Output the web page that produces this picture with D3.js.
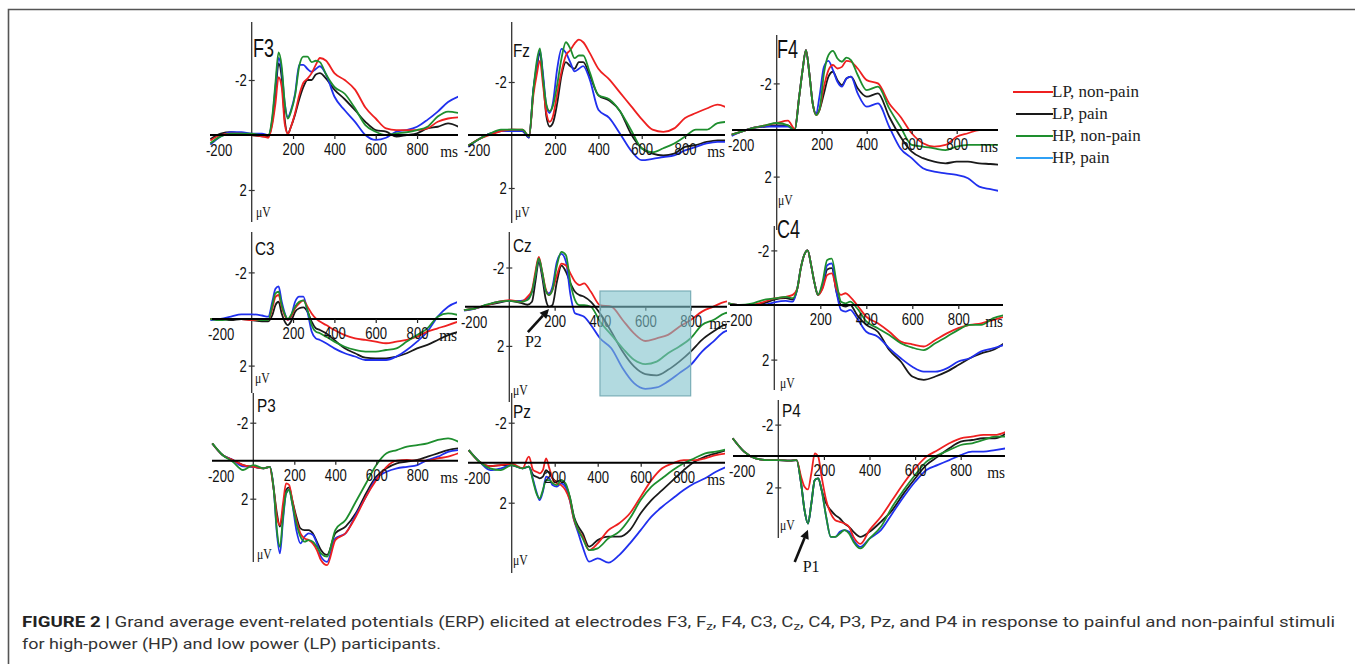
<!DOCTYPE html>
<html>
<head>
<meta charset="utf-8">
<script src="https://cdn.jsdelivr.net/npm/d3@7"></script>
<style>
  body { margin: 0; background: #fff; }
  svg { display: block; }
</style>
</head>
<body>
<svg id="fig" width="1355" height="664"></svg>
<script>
// sample times (ms) shared by all electrodes
const times = [-200,-150,-100,-50,0,50,80,100,115,130,145,160,175,190,210,230,250,270,290,310,330,360,400,450,500,550,600,650,700,750,800,850,900,950,1000]
const seriesNames = ['LP, non-pain', 'LP, pain', 'HP, non-pain', 'HP, pain']
const xTicks = [200, 400, 600, 800]
const yTicks = [-2, 2]

// amplitudes in µV, order: LP non-pain, LP pain, HP non-pain, HP pain
const F3 = [
    [0.2,0,-0.05,-0.05,0,0.05,0.1,-0.4,-1.15,-2.1,-1.75,-0.4,-0.05,-0.3,-0.8,-1.45,-1.9,-2.05,-2.25,-2.55,-2.8,-2.7,-2.25,-2.0,-1.65,-1.0,-0.6,-0.24,-0.18,-0.18,-0.18,-0.24,-0.48,-0.6,-0.64],
    [0.15,-0.05,-0.1,-0.05,0,0.05,0.05,-0.5,-1.5,-2.6,-2.1,-0.55,-0.05,-0.3,-0.75,-1.3,-1.75,-2.0,-2.0,-2.2,-2.25,-2.05,-1.65,-1.3,-0.9,-0.48,-0.18,-0.12,0.06,0,-0.06,-0.24,-0.3,-0.42,-0.3],
    [0.3,0.05,-0.05,-0.05,-0.05,0,0,-0.7,-1.9,-3.0,-2.5,-1.15,-0.6,-0.85,-1.45,-2.5,-2.85,-2.85,-2.65,-2.7,-2.65,-2.2,-1.75,-1.5,-0.97,-0.36,-0.12,0,-0.06,-0.1,-0.18,-0.3,-0.67,-0.85,-0.8],
    [0.35,0.05,-0.1,-0.1,-0.05,-0.05,0,-0.6,-1.75,-2.8,-2.35,-1.15,-0.65,-0.9,-1.5,-2.55,-2.55,-2.4,-2.3,-2.4,-2.5,-2.2,-1.4,-0.9,-0.48,0,0.18,0.1,-0.12,-0.18,-0.3,-0.55,-0.85,-1.2,-1.4]
]
const Fz = [
    [0.4,0.15,0,-0.15,-0.2,-0.2,0.05,-1.5,-2.25,-2.8,-1.85,-0.83,-0.5,-0.7,-1.55,-2.4,-3.0,-3.2,-3.45,-3.6,-3.5,-3.1,-2.5,-2.1,-1.6,-1.1,-0.6,-0.2,-0.12,-0.25,-0.64,-0.83,-1.0,-1.15,-1.0],
    [0.4,0.15,-0.05,-0.15,-0.2,-0.15,0.1,-1.7,-2.5,-3.1,-2.1,-0.7,-0.32,-0.45,-1.2,-2.25,-2.75,-2.6,-2.5,-2.75,-2.75,-2.25,-1.5,-1.3,-0.9,-0.05,0.5,0.7,0.77,0.7,0.45,0.38,0.26,0.2,0.2],
    [0.4,0.15,-0.05,-0.2,-0.2,-0.2,0.05,-1.7,-2.75,-3.27,-2.1,-1.15,-0.9,-1.1,-1.9,-2.9,-3.5,-3.27,-2.9,-3.0,-3.0,-2.37,-1.5,-1.35,-0.9,-0.2,0.5,0.65,0.5,0.32,0.06,-0.2,-0.2,-0.45,-0.5],
    [0.45,0.15,-0.05,-0.15,-0.15,-0.15,0.1,-1.7,-2.6,-3.2,-2.25,-1.1,-0.83,-1.2,-2.5,-3.25,-3.1,-2.75,-2.4,-2.5,-2.6,-2.1,-0.95,-0.65,-0.05,0.58,0.95,0.9,0.83,0.77,0.58,0.45,0.32,0.26,0.26]
]
const F4 = [
    [0.2,0.05,-0.1,-0.2,-0.3,-0.4,-0.05,-1.43,-2.57,-3.43,-2.43,-1.14,-0.64,-0.86,-1.86,-2.57,-2.79,-2.64,-2.71,-2.97,-2.93,-2.64,-2.14,-2.0,-1.14,-0.57,0.14,0.57,0.71,0.64,0.29,0.14,0,0,0],
    [0.2,0.05,-0.1,-0.15,-0.2,-0.2,0,-1.43,-2.57,-3.43,-2.43,-1.14,-0.7,-0.86,-1.57,-2.29,-2.5,-2.14,-1.93,-2.21,-2.29,-1.79,-1.43,-1.57,-0.57,0.29,0.93,1.21,1.36,1.43,1.36,1.36,1.43,1.46,1.5],
    [0.2,0.05,-0.1,-0.2,-0.3,-0.2,0,-1.43,-2.57,-3.43,-2.43,-1.14,-0.64,-0.86,-2.43,-3.21,-3.4,-3.07,-2.93,-3.11,-3.0,-2.36,-1.71,-1.86,-0.93,-0.14,0.64,0.71,0.79,0.86,0.71,0.64,0.64,0.64,0.64],
    [0.25,0.05,-0.1,-0.15,-0.15,-0.15,0,-1.43,-2.57,-3.43,-2.43,-1.14,-0.7,-1.43,-2.71,-2.97,-2.57,-2.07,-1.86,-2.21,-2.29,-1.57,-1.0,-1.14,-0.14,0.79,1.21,1.64,1.79,1.86,1.93,2.07,2.43,2.54,2.64]
]
const C3 = [
    [0,0,0,0,0.05,0.05,0.05,-0.45,-0.95,-1.03,-0.53,-0.15,0.04,-0.1,-0.46,-0.67,-0.8,-0.53,-0.24,-0.03,0.11,0.26,0.47,0.69,0.83,0.9,0.97,1.04,0.97,0.9,0.76,0.54,0.4,0.26,0.11],
    [0,0,0.05,0,0.05,0.1,0.1,-0.17,-0.6,-0.74,-0.24,0.11,0.26,0.11,-0.31,-0.46,-0.5,-0.31,0.11,0.4,0.47,0.61,0.9,1.26,1.47,1.66,1.69,1.69,1.61,1.47,1.26,1.11,0.9,0.69,0.55],
    [0,0.05,0,0,0,0.05,0.05,-0.6,-1.1,-1.17,-0.6,-0.2,0,-0.17,-0.53,-0.74,-0.8,-0.39,0.26,0.54,0.61,0.76,0.97,1.19,1.33,1.4,1.4,1.33,1.26,0.97,0.69,0.4,-0.1,-0.24,-0.17],
    [0.05,0,-0.1,-0.2,-0.2,-0.15,-0.1,-0.75,-1.3,-1.4,-0.75,-0.24,0.04,-0.1,-0.74,-0.96,-0.96,-0.31,0.54,0.83,0.9,1.04,1.26,1.47,1.61,1.76,1.76,1.76,1.61,1.33,0.97,0.54,-0.1,-0.53,-0.74]
]
const Cz = [
    [0.17,0.08,-0.08,-0.25,-0.34,-0.25,-0.5,-0.85,-1.78,-2.54,-1.78,-0.93,-0.59,-0.85,-1.6,-2.2,-2.1,-1.69,-1.27,-1.1,-1.19,-0.76,-0.08,0,0.68,1.36,1.75,1.61,1.44,1.02,0.68,0.25,0,-0.25,-0.3],
    [0.17,0.08,-0.08,-0.2,-0.3,-0.2,-0.1,-0.25,-1.27,-2.29,-1.53,-0.42,0,-0.08,-1.27,-2.1,-1.78,-1.19,-0.76,-0.59,-0.51,-0.25,0.34,1.27,2.29,3.05,3.44,3.5,3.22,2.8,2.29,1.69,1.27,0.93,0.85],
    [0.17,0.08,-0.1,-0.25,-0.3,-0.25,-0.34,-0.76,-1.6,-2.46,-1.78,-0.85,-0.59,-0.85,-2.1,-2.8,-2.63,-1.19,-0.34,-0.08,-0.08,0,0.76,1.44,2.12,2.71,2.93,2.8,2.37,2.03,1.61,0.93,0.68,0.34,0.25],
    [0.2,0.1,-0.08,-0.25,-0.3,-0.3,-0.42,-0.76,-1.6,-2.46,-1.7,-0.85,-0.68,-1.0,-2.29,-2.7,-2.29,-0.59,0.34,0.42,0.51,0.93,1.61,2.12,3.14,3.9,4.19,4.12,3.81,3.39,2.97,2.29,1.78,1.27,1.15]
]
const C4 = [
    [-0.06,0,0,-0.1,-0.24,-0.3,-0.37,-0.6,-1.34,-1.83,-2.0,-1.46,-0.8,-0.37,-0.6,-1.1,-1.16,-0.6,-0.37,-0.43,-0.3,0,0.43,0.67,0.98,1.34,1.44,1.52,1.28,1.04,0.85,0.73,0.67,0.55,0.43],
    [-0.06,0,0,-0.05,-0.2,-0.25,-0.2,-0.6,-1.34,-1.83,-2.0,-1.46,-0.8,-0.37,-0.65,-1.3,-1.35,-0.49,0,0.06,0,0.37,0.73,0.98,1.65,2.07,2.62,2.74,2.62,2.44,2.2,1.95,1.77,1.65,1.4],
    [-0.06,0,-0.05,-0.18,-0.24,-0.3,-0.25,-0.6,-1.34,-1.83,-2.0,-1.46,-0.8,-0.37,-0.85,-1.65,-1.7,-0.85,-0.12,-0.06,-0.12,0.12,0.6,0.85,1.1,1.4,1.56,1.65,1.4,1.16,0.91,0.73,0.73,0.49,0.37],
    [-0.06,0,0,0,-0.1,-0.15,-0.12,-0.6,-1.34,-1.83,-2.0,-1.46,-0.8,-0.37,-0.73,-1.46,-1.52,-0.49,0.18,0.24,0.18,0.49,0.98,1.16,1.59,1.95,2.26,2.44,2.44,2.32,2.07,1.95,1.7,1.59,1.46]
]
const P3 = [
    [-0.91,-0.3,-0.04,0.23,0.32,0.4,0.32,1.54,2.95,3.39,2.25,1.19,1.28,2.07,3.12,3.82,4.09,4.18,4.35,4.7,5.23,5.5,4.18,3.82,2.95,1.89,1.02,0.32,0,-0.04,0,0,-0.12,-0.21,-0.39],
    [-0.91,-0.3,-0.04,0.23,0.32,0.4,0.32,1.54,2.77,3.47,2.6,1.54,1.4,2.07,2.95,3.56,3.65,3.65,3.82,4.26,4.7,4.96,3.82,3.47,2.77,1.72,0.84,0.4,0.14,0.05,-0.04,-0.21,-0.39,-0.56,-0.65],
    [-0.91,-0.3,0.05,0.49,0.23,0.4,0.32,1.54,3.65,4.53,2.95,1.72,1.54,2.25,3.3,4.0,4.26,4.18,4.26,4.53,4.88,5.05,3.65,3.12,2.16,1.19,0.23,-0.39,-0.56,-0.74,-0.82,-0.91,-1.09,-1.18,-1.0],
    [-0.91,-0.3,-0.04,0.3,0.32,0.4,0.32,1.54,3.82,4.88,3.12,1.72,1.54,2.25,3.65,4.35,4.0,3.82,3.9,4.35,5.05,5.32,4.09,3.82,2.86,1.89,0.93,0.58,0.4,0.32,0.23,-0.04,-0.21,-0.47,-0.56]
]
const Pz = [
    [-0.63,-0.05,0.17,0.12,0.05,0.28,-0.3,0.37,0.45,0.53,0.37,-0.22,0.28,0.78,1.03,1.12,1.37,1.87,2.87,3.37,3.7,4.37,4.03,3.37,3.03,2.53,1.7,0.87,0.28,0.03,-0.13,-0.13,-0.22,-0.38,-0.47],
    [-0.63,-0.05,0.17,0.12,0.12,0.28,0.2,0.62,0.7,0.78,0.7,0.37,0.53,0.78,0.95,0.87,1.1,1.7,2.7,3.2,3.53,4.2,3.87,3.7,3.7,3.37,2.53,1.87,1.37,0.87,0.37,-0.05,-0.3,-0.47,-0.63],
    [-0.63,-0.05,0.28,0.37,0.12,0.28,0.2,0.95,1.53,1.78,1.37,0.87,0.87,1.03,1.12,0.87,1.03,1.7,2.78,3.37,3.78,4.37,4.28,3.78,3.45,2.78,1.87,1.2,0.78,0.37,0.03,-0.22,-0.47,-0.55,-0.67],
    [-0.63,-0.05,0.37,0.28,0.12,0.28,0.2,0.87,1.45,1.87,1.45,0.7,0.78,1.12,1.2,1.03,1.2,1.87,2.87,3.53,4.2,4.95,4.78,5.0,4.62,4.03,3.37,2.7,2.2,1.78,1.37,1.03,0.78,0.45,0.2]
]
const P4 = [
    [-1.13,-0.28,0.15,0.26,0.26,0.3,0.26,1.32,1.96,2.13,1.1,-0.17,0.04,1.32,2.81,3.66,4.09,4.19,4.3,4.51,5.15,5.6,4.72,3.87,2.81,1.74,0.79,0.04,-0.38,-0.81,-1.13,-1.23,-1.34,-1.34,-1.55],
    [-1.13,-0.28,0.15,0.26,0.26,0.3,0.26,1.74,3.45,4.3,3.02,1.53,1.43,2.17,3.02,3.45,3.77,3.98,4.3,4.51,4.83,5.15,4.83,4.19,3.45,2.38,1.43,0.57,0.04,-0.49,-0.91,-1.02,-1.13,-1.13,-1.45],
    [-1.13,-0.28,0.15,0.26,0.26,0.3,0.26,1.74,3.45,4.3,3.02,1.53,1.43,2.17,3.87,5.15,5.15,4.94,4.72,4.94,5.47,5.89,5.26,4.51,3.23,2.17,1.21,0.36,-0.06,-0.38,-0.7,-0.81,-1.02,-1.23,-1.23],
    [-1.13,-0.28,0.15,0.26,0.26,0.3,0.26,1.74,3.45,4.3,3.02,1.53,1.43,2.17,3.87,5.15,5.15,4.83,4.72,4.83,5.36,5.79,5.26,4.72,3.66,2.6,1.64,0.89,0.57,0.26,-0.06,-0.28,-0.28,-0.38,-0.49]
]

// shaded analysis window in Cz (ms and µV)
const windowMs = [400, 800]
const windowUv = [-0.8, 4.55]
// component arrows: [ms, µV] of tip and tail
const arrows = [
    { panel: 'Cz', text: 'P2', tip: [175, 0.12], tail: [82, 1.3] },
    { panel: 'P4', text: 'P1', tip: [130, 4.7], tail: [72, 6.75] },
]

const lineColors = ['#ee2020', '#1a1a1a', '#1e8e2e', '#2030ee']
const legendColors = ['#ee2020', '#1a1a1a', '#1e8e2e', '#2fa0f5']
const sans = 'Liberation Sans, Arial, sans-serif'
const serif = 'Liberation Serif, Times New Roman, serif'

// where each panel sits on the page
const panels = [
    { name: 'F3', data: F3, x0: 251.7, pxms: 0.2067, ax: [210, 458], y0: 135, k: 27.5, ya: [22, 222], big: true, lab: [253, 57], uv: [256, 217] },
    { name: 'Fz', data: Fz, x0: 511.7, pxms: 0.2167, ax: [468, 725], y0: 135, k: 26.5, ya: [22, 223], big: false, lab: [513, 57], uv: [515, 217] },
    { name: 'F4', data: F4, x0: 776.7, pxms: 0.225, ax: [732, 998], y0: 130, k: 23.3, ya: [35, 230], big: true, lab: [777, 58], uv: [778, 205] },
    { name: 'C3', data: C3, x0: 251.7, pxms: 0.2067, ax: [212, 457], y0: 319, k: 23.3, ya: [232, 393], big: false, lab: [255, 255], uv: [255, 383] },
    { name: 'Cz', data: Cz, x0: 509.3, pxms: 0.2267, ax: [465, 727], y0: 306.7, k: 19.6, ya: [232, 402], big: false, lab: [513, 252], uv: [513, 395] },
    { name: 'C4', data: C4, x0: 774.3, pxms: 0.23, ax: [730, 1003], y0: 305, k: 27.3, ya: [226, 390], big: true, lab: [777, 238], uv: [780, 388] },
    { name: 'P3', data: P3, x0: 253.3, pxms: 0.205, ax: [212, 458], y0: 460.7, k: 19, ya: [393, 562], big: false, lab: [257, 412], uv: [257, 559] },
    { name: 'Pz', data: Pz, x0: 511.7, pxms: 0.215, ax: [468, 725], y0: 462.7, k: 20, ya: [393, 573], big: false, lab: [513, 418], uv: [513, 565] },
    { name: 'P4', data: P4, x0: 778.3, pxms: 0.228, ax: [733, 1005], y0: 456, k: 15.7, ya: [400, 538], big: false, lab: [782, 417], uv: [780, 530] },
]

const svg = d3.select('#fig')

// text that is squeezed horizontally like the scanned figure
const addText = (parent, str, x, y, o = {}) => {
    return parent.append('text')
        .attr('transform', `translate(${x},${y}) scale(${o.sx || 1},1)`)
        .attr('text-anchor', o.anchor || 'start')
        .attr('font-family', o.family || sans)
        .attr('font-size', o.size || 16)
        .attr('font-weight', o.weight || 'normal')
        .attr('fill', o.fill || '#111')
        .text(str)
}

// frame
svg.append('path')
    .attr('d', 'M8.5,700 L8.5,9.5 L1400,9.5')
    .attr('fill', 'none')
    .attr('stroke', '#555')
    .attr('stroke-width', 1.6)

const scales = {}

panels.forEach((p, pi) => {
    const g = svg.append('g').attr('class', 'panel')
    const x = d3.scaleLinear().domain([0, 1000]).range([p.x0, p.x0 + 1000 * p.pxms])
    const y = d3.scaleLinear().domain([0, 2]).range([p.y0, p.y0 + 2 * p.k])
    scales[p.name] = { x, y, g }

    const clipId = 'clip' + pi
    g.append('clipPath').attr('id', clipId)
        .append('rect').attr('x', p.ax[0] - 2).attr('y', 0).attr('width', p.ax[1] - p.ax[0] + 2).attr('height', 664)

    // y axis
    g.append('line')
        .attr('x1', p.x0).attr('x2', p.x0).attr('y1', p.ya[0]).attr('y2', p.ya[1])
        .attr('stroke', '#333').attr('stroke-width', 1.3)
    const yAx = g.append('g')
        .attr('transform', `translate(${p.x0},0)`)
        .call(d3.axisLeft(y).tickValues(yTicks).tickSize(3).tickPadding(3).tickFormat(d3.format('d')))
    yAx.select('.domain').remove()
    yAx.selectAll('line').attr('x2', -3).attr('x1', 3).attr('stroke', '#333').attr('stroke-width', 1.2)
    yAx.selectAll('text')
        .attr('font-family', sans).attr('font-size', 16).attr('fill', '#111')
        .attr('dy', '0.36em')
        .attr('transform', 'scale(0.82,1)')
        .text(d => d < 0 ? '-' + Math.abs(d) : d)

    // curves
    const line = d3.line()
        .x((d, i) => x(times[i]))
        .y(d => y(d))
        .curve(d3.curveMonotoneX)
    const order = [1, 3, 0, 2]
    g.append('g').attr('clip-path', `url(#${clipId})`)
        .selectAll('path')
        .data(order)
        .join('path')
        .attr('d', s => line(p.data[s]))
        .attr('fill', 'none')
        .attr('stroke', s => lineColors[s])
        .attr('stroke-width', 1.8)
        .attr('stroke-linejoin', 'round')

    // x axis
    g.append('line')
        .attr('x1', p.ax[0]).attr('x2', p.ax[1]).attr('y1', p.y0).attr('y2', p.y0)
        .attr('stroke', '#000').attr('stroke-width', 2)
    const xAx = g.append('g')
        .attr('transform', `translate(0,${p.y0})`)
        .call(d3.axisBottom(x).tickValues(xTicks).tickSize(4).tickPadding(5))
    xAx.select('.domain').remove()
    xAx.selectAll('line').attr('stroke', '#222').attr('stroke-width', 1.2)
    xAx.selectAll('text')
        .attr('font-family', sans).attr('font-size', 16).attr('fill', '#111')
        .attr('transform', 'scale(0.82,1)')
    addText(g, '-200', p.ax[0] - 4, p.y0 + 21, { sx: 0.82 })
    addText(g, 'ms', p.ax[1], p.y0 + 22, { family: serif, size: 17, anchor: 'end', sx: 0.9 })

    // labels
    if (p.big) {
        addText(g, p.name, p.lab[0], p.lab[1], { size: 25, sx: 0.72 })
    } else {
        addText(g, p.name, p.lab[0], p.lab[1], { size: 18, sx: 0.85 })
    }
    addText(g, 'μV', p.uv[0], p.uv[1], { family: serif, size: 15, sx: 0.78 })
})

// shaded window over Cz
{
    const { x, y, g } = scales['Cz']
    g.append('rect')
        .attr('x', x(windowMs[0])).attr('width', x(windowMs[1]) - x(windowMs[0]))
        .attr('y', y(windowUv[0])).attr('height', y(windowUv[1]) - y(windowUv[0]))
        .attr('fill', '#7fc1cb').attr('fill-opacity', 0.6)
        .attr('stroke', '#7aaeb7').attr('stroke-width', 1.2)
}

// component arrows
arrows.forEach(a => {
    const { x, y, g } = scales[a.panel]
    const x1 = x(a.tail[0]), y1 = y(a.tail[1]), x2 = x(a.tip[0]), y2 = y(a.tip[1])
    const ang = Math.atan2(y2 - y1, x2 - x1)
    const hl = 9, hw = 4.5
    const bx = x2 - hl * Math.cos(ang), by = y2 - hl * Math.sin(ang)
    g.append('line')
        .attr('x1', x1).attr('y1', y1).attr('x2', bx).attr('y2', by)
        .attr('stroke', '#111').attr('stroke-width', 2.6)
    g.append('path')
        .attr('d', `M${x2},${y2} L${bx + hw * Math.sin(ang)},${by - hw * Math.cos(ang)} L${bx - hw * Math.sin(ang)},${by + hw * Math.cos(ang)} Z`)
        .attr('fill', '#111')
    if (a.text == 'P2') {
        addText(g, a.text, x1 - 3, y1 + 15, { family: serif, size: 16 })
    } else {
        addText(g, a.text, x1 + 8, y1 + 10, { family: serif, size: 16 })
    }
})

// legend
const legend = svg.append('g').attr('class', 'legend')
seriesNames.forEach((name, i) => {
    const ly = 92 + i * 22
    legend.append('line')
        .attr('x1', i == 0 ? 1013 : 1016).attr('x2', 1053).attr('y1', ly).attr('y2', ly)
        .attr('stroke', legendColors[i]).attr('stroke-width', 2)
    addText(legend, name, 1052, ly + 5, { family: serif, size: 17, fill: '#222' })
})

// caption
const capFont = 'Liberation Sans Narrow, Roboto, sans-serif'
const cap1 = svg.append('text')
    .attr('x', 22).attr('y', 627)
    .attr('font-family', capFont).attr('font-size', 15.5).attr('fill', '#333')
    .attr('textLength', 1313).attr('lengthAdjust', 'spacingAndGlyphs')
cap1.append('tspan').attr('font-weight', 'bold').attr('fill', '#222').text('FIGURE 2 | ')
cap1.append('tspan').text('Grand average event-related potentials (ERP) elicited at electrodes F3, F')
cap1.append('tspan').attr('font-size', 11).attr('dy', 3).text('z')
cap1.append('tspan').attr('dy', -3).text(', F4, C3, C')
cap1.append('tspan').attr('font-size', 11).attr('dy', 3).text('z')
cap1.append('tspan').attr('dy', -3).text(', C4, P3, Pz, and P4 in response to painful and non-painful stimuli')

svg.append('text')
    .attr('x', 22).attr('y', 649)
    .attr('font-family', capFont).attr('font-size', 15.5).attr('fill', '#333')
    .attr('textLength', 419).attr('lengthAdjust', 'spacingAndGlyphs')
    .text('for high-power (HP) and low power (LP) participants.')
</script>
</body>
</html>
